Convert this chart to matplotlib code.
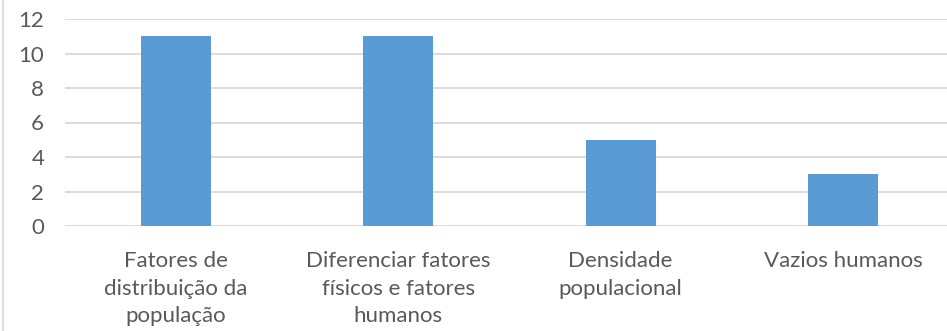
import matplotlib.pyplot as plt

# dati
categorie = ["Fatores de\ndistribuição da\npopulação",
             "Diferenciar fatores\nfísicos e fatores\nhumanos",
             "Densidade\npopulacional",
             "Vazios humanos"]
valori = [11, 11, 5, 3]
y_ticks = [0, 2, 4, 6, 8, 10, 12]

plt.rcParams['font.family'] = ['Lato', 'DejaVu Sans']

fig = plt.figure(figsize=(9.47, 3.31), dpi=100)
# l'area del grafico esce a destra, come nell'originale tagliato
ax = fig.add_axes([65 / 947, 105 / 331, 889 / 947, 207 / 331])

x = range(len(categorie))
ax.bar(x, valori, width=0.315, color="#5B9BD5", zorder=3)

ax.set_xlim(-0.5, len(categorie) - 0.5)
ax.set_ylim(0, 12)
ax.set_yticks(y_ticks)
ax.set_xticks(list(x))
ax.set_xticklabels(categorie, linespacing=1.47)

ax.grid(axis="y", color="#D9D9D9", linewidth=1.3, zorder=0)
for s in ax.spines.values():
    s.set_visible(False)
ax.tick_params(axis="both", length=0, colors="#595959", labelsize=16)
ax.tick_params(axis="y", pad=15)
ax.tick_params(axis="x", pad=18)

# bordo sinistro del riquadro
fig.add_artist(plt.Line2D([3 / 947, 3 / 947], [0, 1], color="#D9D9D9", linewidth=1.2))

fig.savefig("out.png", dpi=100)
